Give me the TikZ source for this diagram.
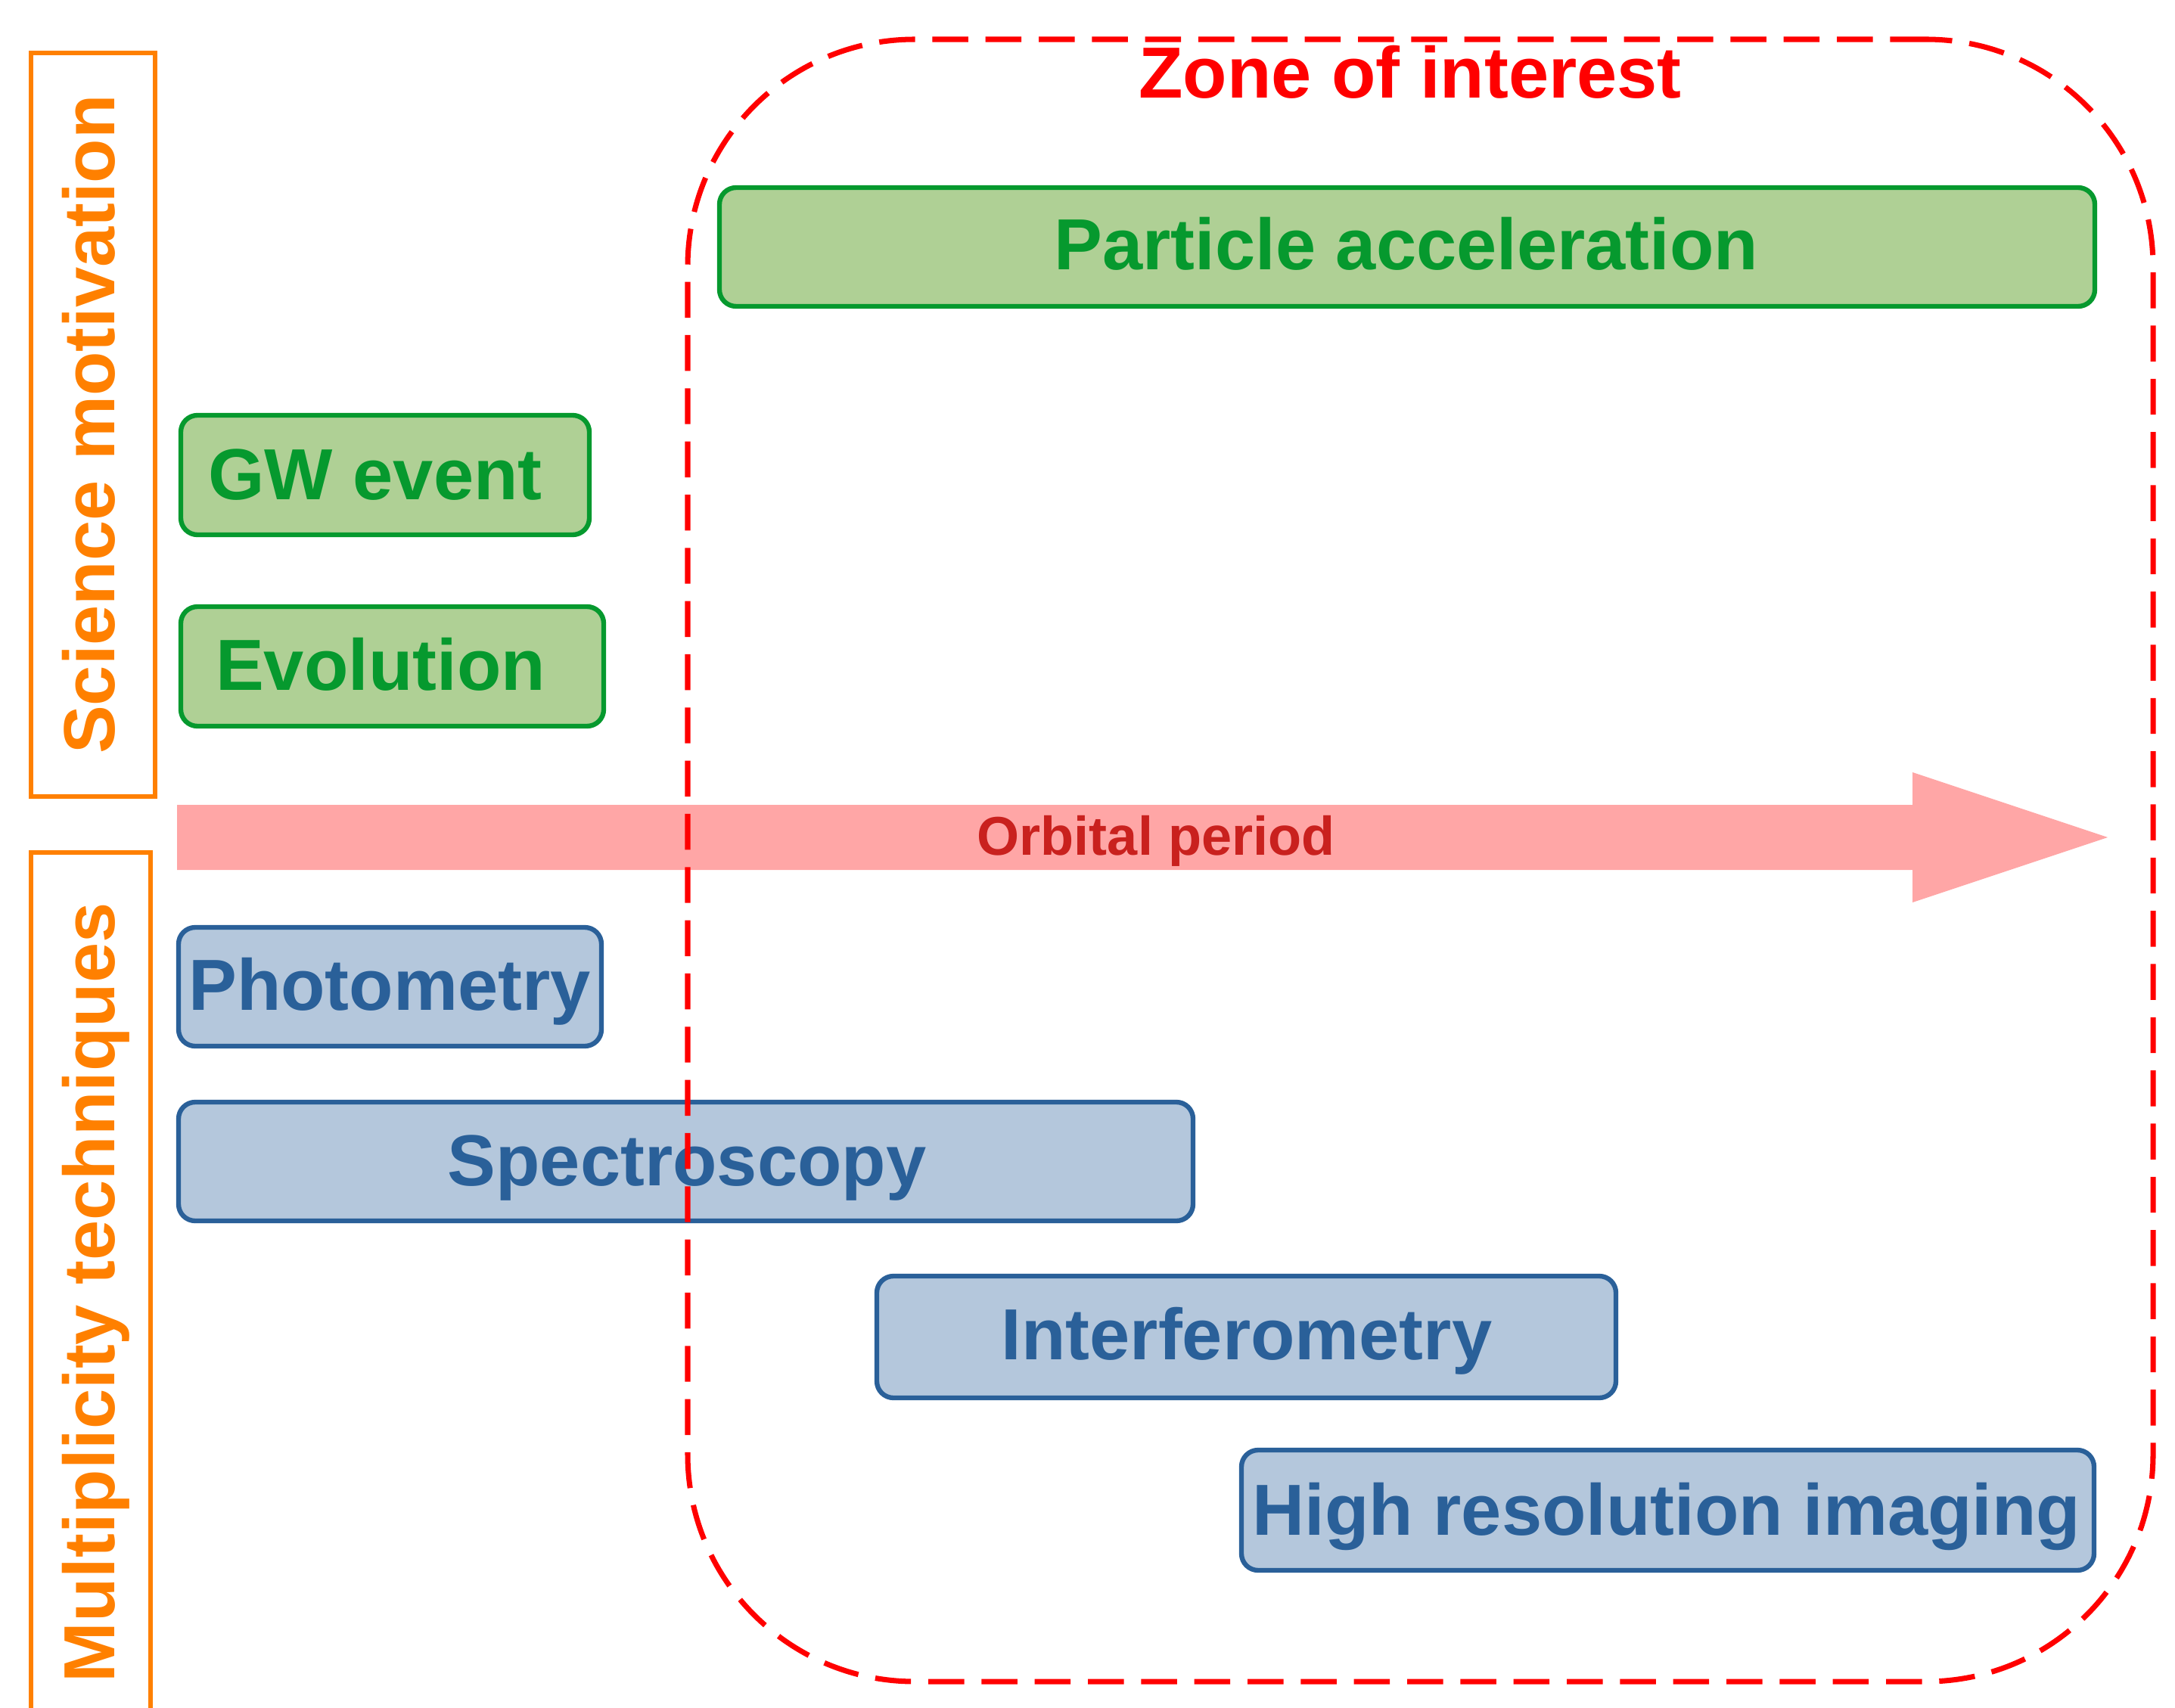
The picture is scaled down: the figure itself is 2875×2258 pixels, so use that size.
\documentclass[tikz,border=0pt]{standalone}
\usepackage{fontspec}
\setmainfont{Liberation Sans}
\usetikzlibrary{fit}
\definecolor{gfill}{HTML}{AFD095}
\definecolor{gline}{HTML}{06992E}
\definecolor{bfill}{HTML}{B4C7DC}
\definecolor{bline}{HTML}{2A6099}
\definecolor{orangec}{HTML}{FF8000}
\definecolor{arrowc}{HTML}{FFA6A6}
\definecolor{arrowtxt}{HTML}{C9211E}
\definecolor{zonec}{HTML}{FF0000}
\begin{document}
\begin{tikzpicture}[x=0.01cm,y=-0.01cm,
  gbox/.style={draw=gline, fill=gfill, line width=1.8pt, rounded corners=0.22cm, inner sep=0pt},
  bbox/.style={draw=bline, fill=bfill, line width=1.8pt, rounded corners=0.22cm, inner sep=0pt},
  obox/.style={draw=orangec, line width=1.5pt, inner sep=0pt},
  zonebox/.style={draw=zonec, line width=2pt, dash pattern=on 13.5pt off 6.5pt, rounded corners=3cm, inner sep=0pt},
  lab/.style={anchor=base, inner sep=0pt, font=\fontsize{27.2pt}{32pt}\selectfont\bfseries},
  smalllab/.style={anchor=base, inner sep=0pt, font=\fontsize{20.5pt}{24pt}\selectfont\bfseries},
]
\useasboundingbox (0,0) rectangle (2875,2258);

% side category boxes
\node[obox, fit={(41,70) (205,1053)}] (smbox) {};
\node[obox, fit={(41,1127) (199,2300)}] (mtbox) {};
\node[lab, text=orangec, rotate=90] (smtxt) at (151,561) {Science motivation};
\node[lab, text=orangec, rotate=90] (mttxt) at (151,1709) {Multiplicity techniques};

% science motivation boxes
\node[gbox, fit={(951,248) (2769,405)}] (pa) {};
\node[gbox, fit={(239,549) (779,707)}] (gw) {};
\node[gbox, fit={(239,802) (798,960)}] (ev) {};
\node[lab, text=gline] (patxt) at (1859,357) {Particle acceleration};
\node[lab, text=gline] (gwtxt) at (496,660) {GW event};
\node[lab, text=gline] (evtxt) at (503,912) {Evolution};

% orbital period arrow
\fill[arrowc] (234,1064) -- (2528,1064) -- (2528,1021) -- (2786,1107)
  -- (2528,1193) -- (2528,1150) -- (234,1150) -- cycle;
\node[smalllab, text=arrowtxt] (orbtxt) at (1528,1130) {Orbital period};

% technique boxes
\node[bbox, fit={(236,1226) (795,1383)}] (ph) {};
\node[bbox, fit={(236,1457) (1577,1614)}] (sp) {};
\node[bbox, fit={(1159,1687) (2136,1848)}] (if) {};
\node[bbox, fit={(1641,1917) (2768,2076)}] (hr) {};
\node[lab, text=bline] (phtxt) at (515,1335) {Photometry};
\node[lab, text=bline] (sptxt) at (908,1567) {Spectroscopy};
\node[lab, text=bline] (iftxt) at (1648,1797) {Interferometry};
\node[lab, text=bline] (hrtxt) at (2203,2029) {High resolution imaging};

% zone of interest
\node[zonebox, fit={(909,52) (2846,2223)}] (zone) {};
\node[lab, text=zonec] (zonetxt) at (1864,130) {Zone of interest};
\end{tikzpicture}
\end{document}
